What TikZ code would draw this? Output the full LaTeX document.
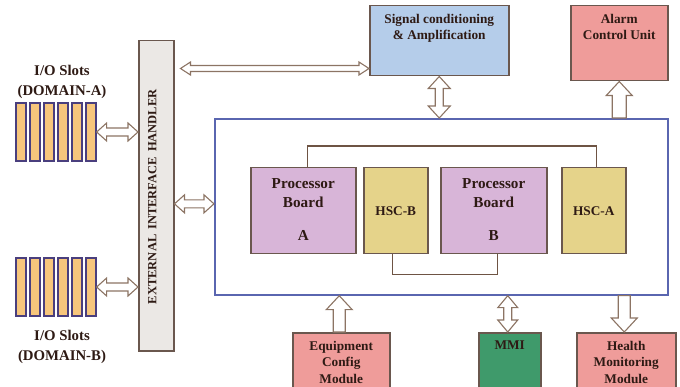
\documentclass[tikz,border=0pt]{standalone}
\usepackage{fontspec}
\setmainfont{Liberation Serif}
\usetikzlibrary{calc}
\definecolor{hdfill}{HTML}{EBE8E5}
\definecolor{brd}{HTML}{6A574E}
\definecolor{slotfill}{HTML}{F7C67C}
\definecolor{slotbrd}{HTML}{4A3F7E}
\definecolor{sigfill}{HTML}{B5CDEA}
\definecolor{redfill}{HTML}{EF9C9A}
\definecolor{mainbrd}{HTML}{5A66B0}
\definecolor{pbfill}{HTML}{D8B5D8}
\definecolor{hscfill}{HTML}{E5D38A}
\definecolor{mmifill}{HTML}{3F9A6B}
\definecolor{arrc}{HTML}{8C7464}
\definecolor{linec}{HTML}{6E5444}
\definecolor{txt}{HTML}{2E1A14}
\newcommand\dblarrow[5]{%
  \coordinate (da1) at ($(#1)!#5!(#2)$);
  \coordinate (db1) at ($(#2)!#5!(#1)$);
  \draw[fat] (#1) -- ($(da1)!#4!90:(#2)$) -- ($(da1)!#3!90:(#2)$) -- ($(db1)!#3!-90:(#1)$) -- ($(db1)!#4!-90:(#1)$) -- (#2) -- ($(db1)!#4!90:(#1)$) -- ($(db1)!#3!90:(#1)$) -- ($(da1)!#3!-90:(#2)$) -- ($(da1)!#4!-90:(#2)$) -- cycle;}
\newcommand\sglarrow[5]{%
  \coordinate (db1) at ($(#2)!#5!(#1)$);
  \draw[fat] ($(#1)!#3!90:(#2)$) -- ($(db1)!#3!-90:(#1)$) -- ($(db1)!#4!-90:(#1)$) -- (#2) -- ($(db1)!#4!90:(#1)$) -- ($(db1)!#3!90:(#1)$) -- ($(#1)!#3!-90:(#2)$) -- cycle;}
\begin{document}
\begin{tikzpicture}[x=1pt,y=-1pt,
  fat/.style={draw=arrc, fill=white, line width=1.1pt, line join=miter},
  bx/.style={draw=brd, line width=1.5pt, inner sep=0pt, anchor=north west},
  slot/.style={draw=slotbrd, fill=slotfill, line width=1.3pt, inner sep=0pt, minimum width=10pt, minimum height=58pt},
  t13/.style={text=txt, font=\fontsize{13.3}{16.5}\selectfont\bfseries, align=center, inner sep=0pt},
  tpb/.style={text=txt, font=\fontsize{15.2}{19}\selectfont\bfseries, align=center, inner sep=0pt},
  tio/.style={text=txt, font=\fontsize{14.8}{20}\selectfont\bfseries, align=center, inner sep=0pt},
  conn/.style={draw=linec, line width=1.3pt}]
\useasboundingbox (0,0) rectangle (680,387);
\clip (0,0) rectangle (680,387);
% external interface handler
\node[bx, fill=hdfill, minimum width=35pt, minimum height=310pt] (hd) at (138,40) {};
\node[text=txt, font=\fontsize{12.5}{14}\selectfont\bfseries, rotate=90, inner sep=0pt] (hdT) at ($(hd.center)+(-4,1)$) {EXTERNAL\hspace{5pt}INTERFACE\hspace{5pt}HANDLER};
% I/O slots
\foreach \i in {1,...,6} {
  \node[slot] (ioA\i) at ({7+14*\i},132) {};
  \node[slot] (ioB\i) at ({7+14*\i},287) {};
}
\node[tio] (ioAT) at (62,82) {I/O Slots\\(DOMAIN-A)};
\node[tio] (ioBT) at (62,347) {I/O Slots\\(DOMAIN-B)};
% main box
\node[draw=mainbrd, line width=1.7pt, minimum width=453pt, minimum height=176pt, anchor=north west, inner sep=0pt, fill=white] (main) at (214,118) {};
% inner boards
\node[bx, fill=pbfill, minimum width=105pt, minimum height=86pt] (pa) at (250,167) {};
\node[tpb] (paT) at ($(pa.center)+(0,-1)$) {Processor\\Board\\[14pt]A};
\node[bx, fill=hscfill, minimum width=64pt, minimum height=86pt] (hscB) at (363,167) {};
\node[t13] (hscBT) at (hscB.center) {HSC-B};
\node[bx, fill=pbfill, minimum width=106pt, minimum height=86pt] (pb) at (440,167) {};
\node[tpb] (pbT) at ($(pb.center)+(0,-1)$) {Processor\\Board\\[14pt]B};
\node[bx, fill=hscfill, minimum width=64pt, minimum height=86pt] (hscA) at (561,167) {};
\node[t13] (hscAT) at (hscA.center) {HSC-A};
\draw[conn] ($(pa.north)+(4,0)$) -- ++(0,-21) -| ($(hscA.north)+(3,0)$);
\draw[conn] ($(hscB.south)+(-3,0)$) -- ++(0,20) -| ($(pb.south)+(4,0)$);
% top boxes
\node[bx, fill=sigfill, minimum width=139pt, minimum height=70pt] (sig) at (369,5) {};
\node[t13, anchor=north] (sigT) at ($(sig.north)+(0,9)$) {Signal conditioning\\\& Amplification};
\node[bx, fill=redfill, minimum width=97pt, minimum height=75pt] (alarm) at (570,5) {};
\node[t13, anchor=north] (alarmT) at ($(alarm.north)+(0,9)$) {Alarm\\Control Unit};
% bottom boxes
\node[bx, fill=redfill, minimum width=97pt, minimum height=70pt] (eq) at (292,332) {};
\node[t13, anchor=north] (eqT) at ($(eq.north)+(0,9)$) {Equipment\\Config\\Module};
\node[bx, fill=mmifill, minimum width=62pt, minimum height=70pt] (mmi) at (478,332) {};
\node[t13, anchor=north] (mmiT) at ($(mmi.north)+(0,9)$) {MMI};
\node[bx, fill=redfill, minimum width=99pt, minimum height=70pt] (hm) at (576,332) {};
\node[t13, anchor=north] (hmT) at ($(hm.north)+(0,9)$) {Health\\Monitoring\\Module};
% arrows
\coordinate (a1s) at (ioA6.east);
\coordinate (a1e) at (hd.west |- ioA6.east);
\dblarrow{a1s}{a1e}{4pt}{9pt}{10pt}
\coordinate (a2s) at (ioB6.east);
\coordinate (a2e) at (hd.west |- ioB6.east);
\dblarrow{a2s}{a2e}{4pt}{9pt}{10pt}
\coordinate (a3s) at ($(hd.east |- main.west)+(0,-3)$);
\coordinate (a3e) at ($(main.west)+(0,-3)$);
\dblarrow{a3s}{a3e}{4pt}{9pt}{10pt}
\coordinate (a4e) at ($(sig.south west)+(0,-8)$);
\coordinate (a4s) at ($(hd.east |- a4e)+(6,0)$);
\dblarrow{a4s}{a4e}{3pt}{6.5pt}{10pt}
\coordinate (a5s) at (sig.south);
\coordinate (a5e) at (main.north -| sig.south);
\dblarrow{a5s}{a5e}{4pt}{11pt}{12pt}
\coordinate (a6s) at (main.north -| alarm.south);
\coordinate (a6e) at (alarm.south);
\sglarrow{a6s}{a6e}{7pt}{13pt}{14pt}
\coordinate (a7s) at ($(eq.north)+(-2,0)$);
\coordinate (a7e) at (main.south -| a7s);
\sglarrow{a7s}{a7e}{6pt}{13pt}{14pt}
\coordinate (a8s) at ($(mmi.north)+(-2,0)$);
\coordinate (a8e) at (main.south -| a8s);
\dblarrow{a8s}{a8e}{4pt}{10pt}{12pt}
\coordinate (a9e) at ($(hm.north)+(-2,0)$);
\coordinate (a9s) at (main.south -| a9e);
\sglarrow{a9s}{a9e}{6pt}{13pt}{14pt}
\end{tikzpicture}
\end{document}
